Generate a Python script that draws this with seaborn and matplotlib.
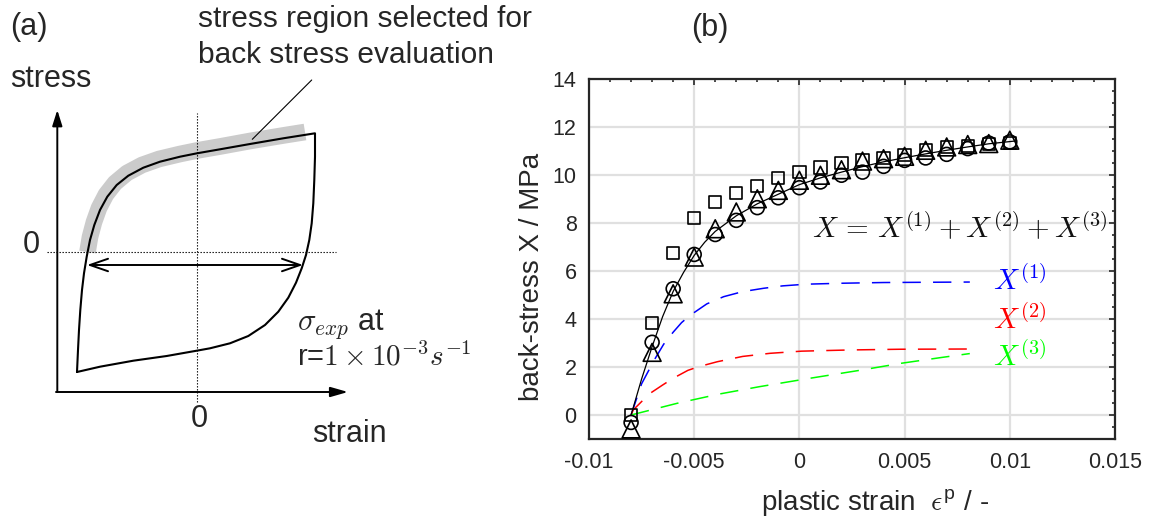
import matplotlib
matplotlib.use("Agg")
import matplotlib.pyplot as plt
import seaborn as sns

# ---------------- panel (b): back-stress data ----------------
strain_pts = [-0.008, -0.007, -0.006, -0.005, -0.004, -0.003, -0.002, -0.001, 0.0,
              0.001, 0.002, 0.003, 0.004, 0.005, 0.006, 0.007, 0.008, 0.009, 0.010]
x_square = [0.0, 3.82, 6.75, 8.22, 8.87, 9.26, 9.53, 9.86, 10.12, 10.31,
            10.50, 10.61, 10.72, 10.83, 11.03, 11.17, 11.20, 11.30, 11.33]
x_circle = [-0.31, 3.03, 5.26, 6.69, 7.52, 8.11, 8.64, 9.05, 9.47, 9.71,
            9.99, 10.12, 10.36, 10.61, 10.71, 10.86, 11.10, 11.33, 11.38]
x_triangle = [-0.58, 2.61, 5.05, 6.58, 7.76, 8.46, 9.01, 9.36, 9.78, 9.99,
              10.22, 10.58, 10.68, 10.78, 11.03, 11.17, 11.27, 11.31, 11.45]

fit_strain = [-0.008, -0.0075, -0.007, -0.0065, -0.006, -0.0055, -0.005, -0.0045,
              -0.004, -0.003, -0.002, -0.001, 0.0, 0.001, 0.002, 0.003, 0.004,
              0.005, 0.006, 0.007, 0.008, 0.009, 0.0103]
fit_total = [0.0, 1.5, 2.85, 4.1, 5.15, 5.95, 6.65, 7.2, 7.65, 8.3, 8.8, 9.2, 9.6,
             9.88, 10.12, 10.35, 10.55, 10.72, 10.88, 11.03, 11.17, 11.3, 11.42]

x1_strain = [-0.008, -0.0075, -0.0069, -0.00645, -0.006, -0.0056, -0.0052, -0.0044,
             -0.0036, -0.0027, -0.0017, -0.0008, 0.0003, 0.002, 0.004, 0.006, 0.0081]
x1_vals = [0.0, 1.3, 2.29, 2.95, 3.45, 3.85, 4.15, 4.63, 4.93, 5.14, 5.28, 5.38,
           5.45, 5.49, 5.52, 5.53, 5.54]

x2_strain = [-0.008, -0.0079, -0.0075, -0.0071, -0.0065, -0.006, -0.0053, -0.0048,
             -0.0039, -0.0027, -0.0014, 0.0001, 0.0024, 0.0048, 0.0081]
x2_vals = [0.0, 0.21, 0.56, 0.90, 1.25, 1.53, 1.86, 2.01, 2.22, 2.44, 2.57, 2.66,
           2.71, 2.74, 2.75]

x3_strain = [-0.008, -0.0058, -0.0038, -0.0019, 0.0005, 0.003, 0.0048, 0.0067, 0.0081]
x3_vals = [0.0, 0.49, 0.875, 1.18, 1.53, 1.88, 2.15, 2.39, 2.56]

x_ticks = [-0.01, -0.005, 0.0, 0.005, 0.01, 0.015]
x_ticklabels = ["-0.01", "-0.005", "0", "0.005", "0.01", "0.015"]
y_ticks = [0, 2, 4, 6, 8, 10, 12, 14]

# ---------------- panel (a): schematic hysteresis loop ----------------
loop_up_strain = [-1.20, -1.19, -1.18, -1.167, -1.15, -1.13, -1.103, -1.07, -1.027,
                  -0.97, -0.897, -0.803, -0.687, -0.537, -0.37, -0.17, 0.0, 0.23,
                  0.53, 0.863, 1.18]
loop_up_stress = [-1.20, -0.98, -0.78, -0.58, -0.38, -0.213, -0.047, 0.12, 0.27,
                  0.42, 0.553, 0.67, 0.763, 0.843, 0.903, 0.953, 0.987, 1.027,
                  1.08, 1.137, 1.187]
loop_down_strain = [1.18, 1.18, 1.173, 1.163, 1.147, 1.123, 1.09, 1.047, 0.99, 0.913,
                    0.813, 0.68, 0.513, 0.33, 0.13, -0.003, -0.303, -0.637, -0.97,
                    -1.20]
loop_down_stress = [1.187, 0.953, 0.72, 0.487, 0.287, 0.12, -0.03, -0.163, -0.307,
                    -0.457, -0.597, -0.73, -0.84, -0.913, -0.963, -0.987, -1.04,
                    -1.087, -1.147, -1.20]
band_strain = [-1.095, -1.07, -1.03, -0.98, -0.91, -0.82, -0.70, -0.55, -0.38,
               -0.17, 0.0, 0.23, 0.53, 0.86, 1.08]
band_stress = [0.0, 0.15, 0.30, 0.44, 0.575, 0.69, 0.79, 0.87, 0.93, 0.98, 1.015,
               1.055, 1.11, 1.165, 1.20]

sns.set_theme(style="white")
plt.rcParams["font.family"] = ["Liberation Sans", "DejaVu Sans"]
plt.rcParams["mathtext.fontset"] = "cm"

W, H = 1151, 524
fig = plt.figure(figsize=(W / 100, H / 100), dpi=100)

# ======== panel (a) ========
ax_a = fig.add_axes([0, 0, 520 / W, 1])
ax_a.set_xlim(-1.97, 3.23)
ax_a.set_ylim(-2.72, 2.52)
ax_a.axis("off")

sns.lineplot(x=band_strain, y=band_stress, sort=False, estimator=None,
             color="#cbcbcb", lw=12, solid_capstyle="butt", ax=ax_a)
loop_strain = loop_up_strain + loop_down_strain[1:]
loop_stress = loop_up_stress + loop_down_stress[1:]
sns.lineplot(x=loop_strain, y=loop_stress, sort=False, estimator=None,
             color="black", lw=1.5, ax=ax_a)

# dotted zero lines
ax_a.plot([0, 0], [-1.50, 1.39], color="black", lw=0.8, ls=(0, (1.2, 1.5)))
ax_a.plot([-1.50, 1.39], [0, 0], color="black", lw=0.8, ls=(0, (1.2, 1.5)))

# coordinate axes with arrow heads
ax_a.annotate("", xy=(-1.397, 1.42), xytext=(-1.397, -1.40),
              arrowprops=dict(arrowstyle="-|>,head_length=0.95,head_width=0.3",
                              color="black", lw=1.4, shrinkA=0, shrinkB=0,
                              mutation_scale=10))
ax_a.annotate("", xy=(1.51, -1.40), xytext=(-1.41, -1.40),
              arrowprops=dict(arrowstyle="-|>,head_length=1.05,head_width=0.3",
                              color="black", lw=1.4, shrinkA=0, shrinkB=0,
                              mutation_scale=10))
# width of the loop at zero stress
ax_a.annotate("", xy=(1.06, -0.13), xytext=(-1.10, -0.13),
              arrowprops=dict(arrowstyle="<->,head_length=1.3,head_width=0.45",
                              color="black", lw=1.4, shrinkA=0, shrinkB=0,
                              mutation_scale=10))
# leader line to the selected region
ax_a.plot([1.147, 0.553], [1.72, 1.127], color="black", lw=0.8)

fs_a = 22
ax_a.text(-1.87, 2.17, "(a)", fontsize=fs_a, ha="left", va="baseline")
ax_a.text(-1.87, 1.65, "stress", fontsize=fs_a, ha="left", va="baseline")
ax_a.text(0.01, 2.25, "stress region selected for", fontsize=21.5,
          ha="left", va="baseline")
ax_a.text(0.01, 1.89, "back stress evaluation", fontsize=21.5,
          ha="left", va="baseline")
ax_a.text(-1.57, -0.01, "0", fontsize=fs_a, ha="right", va="baseline")
ax_a.text(0.02, -1.75, "0", fontsize=fs_a, ha="center", va="baseline")
ax_a.text(1.15, -1.90, "strain", fontsize=fs_a, ha="left", va="baseline")
ax_a.text(1.0, -0.78, r"$\sigma_{exp}$ at", fontsize=fs_a, ha="left", va="baseline")
ax_a.text(1.0, -1.13, r"r=$1\times10^{-3}s^{-1}$", fontsize=21,
          ha="left", va="baseline")

# ======== panel (b) ========
ax_b = fig.add_axes([589 / W, (H - 439) / H, 526 / W, 360 / H])

sns.lineplot(x=x1_strain, y=x1_vals, color="#0000ff", lw=1.1,
             linestyle=(0, (12, 8)), ax=ax_b)
sns.lineplot(x=x2_strain, y=x2_vals, color="#ff0000", lw=1.1,
             linestyle=(0, (12, 8)), ax=ax_b)
sns.lineplot(x=x3_strain, y=x3_vals, color="#00ff00", lw=1.1,
             linestyle=(0, (12, 8)), ax=ax_b)
sns.lineplot(x=fit_strain, y=fit_total, color="black", lw=0.9, ax=ax_b)

sns.scatterplot(x=strain_pts, y=x_square, marker="s", s=78, facecolor="none",
                edgecolor="black", linewidth=1.2, ax=ax_b, zorder=4)
sns.scatterplot(x=strain_pts, y=x_circle, marker="o", s=100, facecolor="none",
                edgecolor="black", linewidth=1.2, ax=ax_b, zorder=4)
sns.scatterplot(x=strain_pts, y=x_triangle, marker="^", s=165, facecolor="none",
                edgecolor="black", linewidth=1.2, ax=ax_b, zorder=4)

ax_b.set_xlim(-0.01, 0.015)
ax_b.set_ylim(-1, 14)
ax_b.set_xticks(x_ticks)
ax_b.set_xticklabels(x_ticklabels)
ax_b.set_yticks(y_ticks)
ax_b.set_xticks([v / 1000 for v in range(-10, 16)], minor=True)
ax_b.set_yticks([v / 2 for v in range(-2, 29)], minor=True)
ax_b.grid(True, which="major", color="#e0e0e0", lw=1.6)
ax_b.grid(False, which="minor")
ax_b.set_axisbelow(True)

tick_col = "#262626"
ax_b.tick_params(which="both", direction="in", top=True, right=True,
                 color=tick_col, width=1.2, labelcolor=tick_col, labelsize=15.5)
ax_b.tick_params(which="major", length=4.3, pad=9)
ax_b.tick_params(which="minor", length=2.4)
for sp in ax_b.spines.values():
    sp.set_color(tick_col)
    sp.set_linewidth(1.6)

ax_b.set_xlabel(r"plastic strain  $\epsilon^{\mathregular{p}}$ / -",
                fontsize=20, color=tick_col)
ax_b.set_ylabel("back-stress X / MPa", fontsize=20, color=tick_col)
ax_b.xaxis.set_label_coords((875 - 589) / 526, -(503 - 439) / 360)
ax_b.yaxis.set_label_coords(-(589 - 532) / 526, 0.45)
ax_b.xaxis.label.set_va("center")
ax_b.yaxis.label.set_va("center")

fs_m = 21
ax_b.text(0.01464, 7.375, r"$X\,=\,X^{(1)}+X^{(2)}+X^{(3)}$", fontsize=fs_m,
          ha="right", va="baseline", color="#111111")
ax_b.text(0.00922, 5.21, r"$X^{(1)}$", fontsize=fs_m, ha="left", va="baseline",
          color="#0000ff")
ax_b.text(0.00922, 3.58, r"$X^{(2)}$", fontsize=fs_m, ha="left", va="baseline",
          color="#ff0000")
ax_b.text(0.00922, 2.04, r"$X^{(3)}$", fontsize=fs_m, ha="left", va="baseline",
          color="#00ff00")

fig.text(710 / W, 1 - 28 / H, "(b)", fontsize=22, ha="center", va="center")

fig.savefig("out.png", dpi=100)
